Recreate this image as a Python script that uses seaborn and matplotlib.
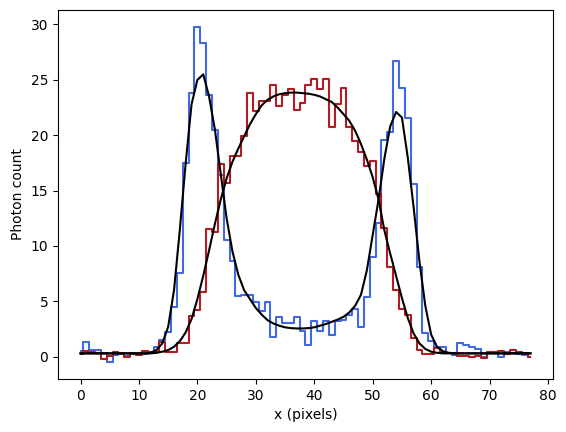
import matplotlib
matplotlib.use("Agg")
import matplotlib.pyplot as plt
import numpy as np
import pandas as pd
import seaborn as sns

# pixel positions along the line profile
x_pix = np.arange(78)

# measured photon counts (blue = shell-like profile, red = filled profile)
blue_counts = [0.5, 1.35, 0.6, 0.6, 0.3, -0.5, 0.15, 0.2, 0.1, 0.2,
               0.25, 0.2, 0.4, 0.9, 1.5, 2.2, 4.5, 7.6, 17.5, 23.8,
               29.8, 28.3, 23.6, 20.5, 16.4, 10.5, 8.6, 5.5, 5.6, 5.6,
               4.95, 4.1, 4.95, 1.75, 3.6, 3.05, 3.05, 3.6, 2.35, 1.05,
               3.2, 2.3, 3.2, 1.95, 3.2, 3.3, 3.75, 4.35, 2.7, 5.4,
               9.0, 12.1, 19.6, 20.3, 26.7, 24.3, 21.6, 15.6, 8.1, 2.1,
               1.4, 0.9, 0.85, 0.3, 0.15, 1.2, 1.05, 0.9, 0.7, 0.0,
               0.45, 0.3, 0.0, 0.45, 0.35, 0.2, 0.15, -0.05]

red_counts = [0.2, 0.5, 0.4, 0.35, -0.2, 0.1, 0.45, 0.35, 0.0, 0.3,
              0.15, 0.5, 0.45, 0.4, 1.3, 0.45, 0.45, 1.2, 1.2, 3.7,
              4.2, 5.8, 11.5, 11.3, 17.4, 15.7, 18.1, 18.1, 19.9, 23.8,
              22.2, 23.1, 23.1, 24.5, 22.6, 23.6, 24.2, 22.3, 22.9, 24.5,
              25.1, 24.2, 25.1, 20.7, 22.8, 24.3, 20.7, 19.5, 18.5, 17.2,
              17.7, 14.7, 11.6, 8.1, 6.0, 4.35, 3.75, 1.65, 0.6, 0.25,
              0.25, 0.75, 0.45, 0.35, 0.35, 0.05, 0.05, 0.0, 0.05, -0.1,
              0.4, 0.45, 0.55, 0.25, 0.6, 0.45, 0.35, -0.05]

# fitted model curves
blue_fit = [0.3, 0.3, 0.3, 0.3, 0.3, 0.3, 0.3, 0.3, 0.3, 0.3,
            0.3, 0.3, 0.35, 0.6, 1.2, 2.7, 6.0, 11.5, 17.5, 22.8,
            25.0, 25.5, 23.5, 20.5, 16.5, 12.5, 9.5, 7.4, 6.0, 5.2,
            4.4, 3.8, 3.3, 3.0, 2.8, 2.65, 2.58, 2.55, 2.55, 2.58,
            2.65, 2.8, 2.95, 3.15, 3.35, 3.6, 4.0, 4.6, 5.6, 7.8,
            11.0, 14.2, 17.9, 20.8, 22.1, 21.6, 18.0, 13.5, 8.6, 4.6,
            2.0, 0.9, 0.5, 0.35, 0.3, 0.3, 0.3, 0.3, 0.3, 0.3,
            0.3, 0.3, 0.3, 0.3, 0.3, 0.3, 0.3, 0.3]

red_fit = [0.3, 0.3, 0.3, 0.3, 0.3, 0.3, 0.3, 0.3, 0.3, 0.3,
           0.3, 0.3, 0.3, 0.35, 0.45, 0.6, 0.9, 1.4, 2.2, 3.4,
           5.2, 7.3, 9.6, 12.0, 14.2, 16.1, 17.6, 18.8, 19.9, 21.0,
           21.9, 22.7, 23.2, 23.5, 23.7, 23.8, 23.85, 23.85, 23.8, 23.75,
           23.65, 23.5, 23.25, 23.0, 22.5, 21.9, 21.3, 20.4, 19.2, 17.8,
           16.2, 14.2, 11.4, 9.3, 7.3, 5.3, 3.5, 2.1, 1.2, 0.7,
           0.45, 0.35, 0.3, 0.3, 0.3, 0.3, 0.3, 0.3, 0.3, 0.3,
           0.3, 0.3, 0.3, 0.3, 0.3, 0.3, 0.3, 0.3]

df = pd.DataFrame({"x": x_pix, "blue": blue_counts, "red": red_counts,
                   "blue_fit": blue_fit, "red_fit": red_fit})

fig = plt.figure(figsize=(5.66, 4.32), dpi=100)
ax = fig.add_axes([0.1025, 0.1227, 0.8745, 0.8543])

sns.lineplot(data=df, x="x", y="blue", ax=ax, color="royalblue",
             drawstyle="steps-mid", linewidth=1.5)
sns.lineplot(data=df, x="x", y="red", ax=ax, color="#b01c22",
             drawstyle="steps-mid", linewidth=1.5)
sns.lineplot(data=df, x="x", y="blue_fit", ax=ax, color="black", linewidth=1.5)
sns.lineplot(data=df, x="x", y="red_fit", ax=ax, color="black", linewidth=1.5)

ax.set_xlabel("x (pixels)")
ax.set_ylabel("Photon count")

fig.savefig("out.png", dpi=100)
